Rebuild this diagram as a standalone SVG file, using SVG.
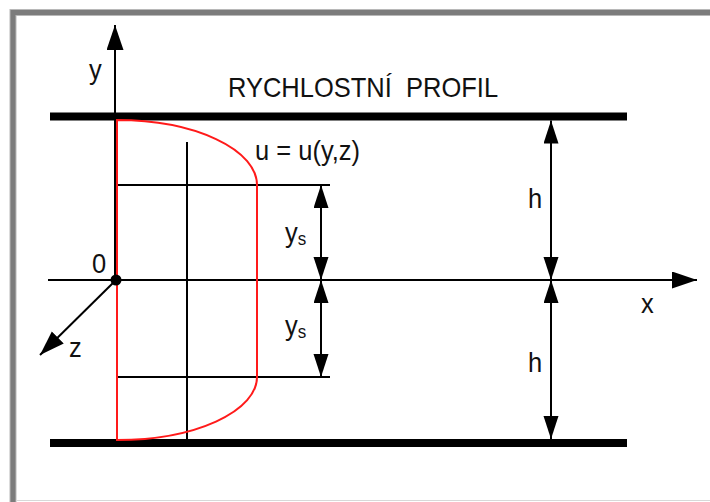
<svg xmlns="http://www.w3.org/2000/svg" width="710" height="502" viewBox="0 0 710 502">
<style>
.t{font-family:"Liberation Sans",Arial,sans-serif;font-size:25.5px;fill:#111}
.thin{stroke:#000;stroke-width:2;fill:none}
.wall{stroke:#000;stroke-width:8;fill:none}
.red{stroke:#ff1a1a;stroke-width:2;fill:none}
.ax{stroke:#000;stroke-width:2;fill:none;marker-end:url(#ah)}
.dim{stroke:#000;stroke-width:2;fill:none;marker-start:url(#dh);marker-end:url(#dh)}
</style>
<defs>
<marker id="ah" markerUnits="userSpaceOnUse" markerWidth="26" markerHeight="18" refX="25" refY="8.5" orient="auto">
<path d="M0,0 L25,8.5 L0,17 z" fill="#000"/>
</marker>
<marker id="dh" markerUnits="userSpaceOnUse" markerWidth="24" markerHeight="16" refX="23" refY="7.5" orient="auto-start-reverse">
<path d="M0,0 L23,7.5 L0,15 z" fill="#000"/>
</marker>
</defs>
<rect width="710" height="502" fill="#fff"/>
<g id="frame">
<path d="M13,502 V12.5 H710" stroke="#b8b8b8" stroke-width="7" fill="none"/>
<path d="M13,502 V12.5 H710" stroke="#7c7c7c" stroke-width="5" fill="none"/>
<line x1="16" y1="500.5" x2="710" y2="500.5" stroke="#d8d8d8" stroke-width="1"/>
</g>
<g id="walls">
<line class="wall" x1="50" y1="116.5" x2="627" y2="116.5"/>
<line class="wall" x1="50" y1="443" x2="627" y2="443"/>
</g>
<g id="grid">
<line class="thin" x1="117" y1="185" x2="330" y2="185"/>
<line class="thin" x1="117" y1="377" x2="330" y2="377"/>
<line class="thin" x1="187" y1="142" x2="187" y2="440"/>
</g>
<g id="connectors">
<line class="ax" x1="115" y1="280" x2="115" y2="25"/>
<line class="ax" x1="48" y1="280" x2="697" y2="280"/>
<line class="ax" x1="116" y1="280" x2="40" y2="355"/>
<line class="dim" x1="321" y1="185" x2="321" y2="280"/>
<line class="dim" x1="321" y1="280" x2="321" y2="377"/>
<line class="dim" x1="551" y1="120.5" x2="551" y2="280"/>
<line class="dim" x1="551" y1="280" x2="551" y2="439"/>
</g>
<g id="profile">
<path class="red" d="M117,120 A140,65 0 0 1 257,185 V377 A140,63 0 0 1 117,440 Z"/>
</g>
<circle id="origin" cx="116" cy="280" r="5.5" fill="#000"/>
<g id="labels">
<text class="t" transform="translate(228,97) scale(1,1.1)" xml:space="preserve">RYCHLOSTNÍ  PROFIL</text>
<text class="t" transform="translate(255,160) scale(1,1.1)">u = u(y,z)</text>
<text class="t" transform="translate(89,79) scale(1,1.1)">y</text>
<text class="t" transform="translate(92,273) scale(1,1.1)">0</text>
<text class="t" transform="translate(69,357) scale(1,1.1)">z</text>
<text class="t" transform="translate(641,313) scale(1,1.1)">x</text>
<text class="t" transform="translate(528,208) scale(1,1.1)">h</text>
<text class="t" transform="translate(528,371.5) scale(1,1.1)">h</text>
<text class="t" transform="translate(285,241.5) scale(1,1.1)">y<tspan font-size="17" dy="3">s</tspan></text>
<text class="t" transform="translate(285,334.5) scale(1,1.1)">y<tspan font-size="17" dy="3">s</tspan></text>
</g>
</svg>
